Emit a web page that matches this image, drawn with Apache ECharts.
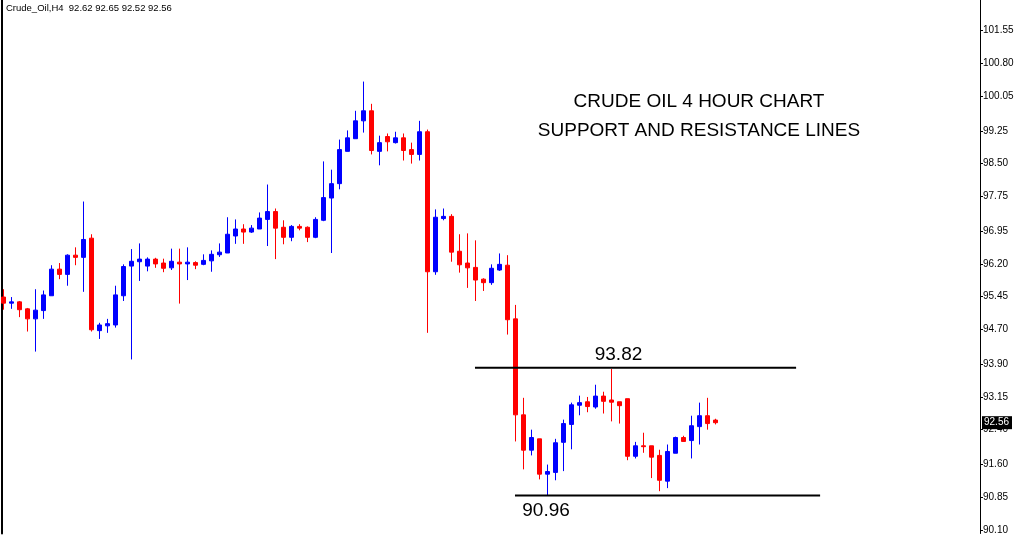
<!DOCTYPE html>
<html><head><meta charset="utf-8">
<script src="https://cdn.jsdelivr.net/npm/echarts@6/dist/echarts.min.js"></script>
<style>html,body{margin:0;padding:0;background:#fff}#c{width:1018px;height:535px}</style>
</head><body><div id="c"></div>
<script>
const headerText = 'Crude_Oil,H4  92.62 92.65 92.52 92.56';
const titleLines = ['CRUDE OIL 4 HOUR CHART', 'SUPPORT AND RESISTANCE LINES'];

const opens  = [95.44,95.30,95.33,95.17,94.94,95.13,95.47,96.08,95.96,96.40,96.35,96.79,94.67,94.78,94.80,95.47,96.15,96.25,96.15,96.31,96.22,96.11,96.24,96.20,96.23,96.19,96.27,96.41,96.45,96.84,97.00,96.93,97.00,97.22,97.40,97.04,96.81,97.06,97.04,96.81,97.20,97.71,98.04,98.78,99.07,99.48,99.71,98.78,99.12,98.98,99.09,98.82,98.71,99.23,96.02,97.24,97.29,96.49,96.22,96.12,95.85,95.77,96.06,96.17,94.94,92.74,91.93,92.19,91.38,91.42,92.11,92.52,92.96,93.04,92.92,93.17,93.08,93.04,93.11,91.79,92.03,92.03,91.81,91.22,91.86,92.22,92.15,92.47,92.72,92.62];
const closes = [95.30,95.33,95.15,94.94,95.14,95.49,96.08,95.96,96.40,96.35,96.76,94.69,94.80,94.83,95.49,96.14,96.26,96.31,96.31,96.20,96.10,96.26,96.20,96.24,96.17,96.28,96.42,96.47,96.88,97.00,96.93,97.02,97.25,97.40,97.02,96.81,97.06,97.02,96.81,97.22,97.72,98.04,98.82,99.09,99.48,99.71,98.80,98.98,99.00,99.09,98.80,98.71,99.23,96.02,97.27,97.29,96.47,96.18,96.11,95.83,95.77,96.10,96.19,94.92,92.74,91.93,92.22,91.38,91.44,92.10,92.54,92.97,93.02,92.93,93.17,93.05,93.03,92.95,91.79,92.03,92.01,91.77,91.24,91.90,92.22,92.13,92.49,92.72,92.54,92.56];
const lows   = [95.15,95.17,94.98,94.65,94.19,94.94,95.47,95.85,95.70,96.17,95.56,94.65,94.48,94.62,94.74,95.35,94.01,95.81,96.03,96.11,96.01,96.06,95.29,95.83,96.08,96.17,96.02,96.36,96.45,96.66,96.66,96.91,97.00,96.61,96.31,96.65,96.72,96.97,96.70,96.79,97.18,96.45,97.91,98.78,99.07,99.21,98.71,98.46,98.78,98.96,98.57,98.50,98.57,94.62,95.95,97.20,96.25,96.00,95.65,95.35,95.58,95.72,96.04,94.58,92.13,91.49,91.81,91.26,90.88,91.24,91.45,91.95,92.73,92.80,92.88,92.77,92.59,92.54,91.70,91.74,91.87,91.29,90.99,91.06,91.86,92.13,91.74,92.06,92.40,92.52];
const highs  = [95.62,95.44,95.35,95.19,95.62,95.59,96.17,96.22,96.42,96.58,97.63,96.88,94.85,94.94,95.70,96.19,96.54,96.67,96.35,96.34,96.32,96.55,96.55,96.58,96.26,96.42,96.51,96.67,97.27,97.22,97.11,97.09,97.38,98.02,97.47,97.20,97.09,97.11,97.06,97.27,98.55,98.36,99.05,99.26,99.71,100.38,99.87,99.14,99.19,99.23,99.19,98.98,99.48,99.28,97.45,97.47,97.34,96.88,96.90,96.74,95.87,96.19,96.44,96.40,95.26,93.13,92.40,92.19,91.60,92.19,92.63,93.02,93.18,93.15,93.43,93.27,93.79,93.04,93.11,92.12,92.33,92.03,91.94,92.06,92.24,92.26,92.72,93.02,93.13,92.65];

const tickValues = [101.55,100.80,100.05,99.25,98.50,97.75,96.95,96.20,95.45,94.70,93.90,93.15,92.40,91.60,90.85,90.10];
const lastPrice = 92.56;

const resistanceLine = [[58.96, 93.82], [99.1, 93.82]];
const resistanceLabel = {text: '93.82', at: [76.9, 93.82]};
const supportLine = [[63.96, 90.89], [102.1, 90.89]];
const supportLabel = {text: '90.96', at: [67.84, 90.89]};

const candles = opens.map((o, i) => [i, o, closes[i], lows[i], highs[i]]);

const chart = echarts.init(document.getElementById('c'), null, {renderer: 'canvas'});
const FONT = 'Liberation Sans, Arial, sans-serif';
const option = {
  animation: false,
  backgroundColor: '#fff',
  grid: {left: 2, right: 38, top: 0, bottom: 0, containLabel: false},
  xAxis: {type: 'value', min: -0.1625, max: 122.0875, show: false},
  yAxis: [
    {type: 'value', position: 'right', min: 90.02, max: 102.25, scale: true,
     axisLine: {show: true, onZero: false, lineStyle: {color: '#000', width: 1}},
     axisTick: {show: true, length: 3, customValues: tickValues, lineStyle: {color: '#000'}},
     axisLabel: {show: true, customValues: tickValues, formatter: v => v.toFixed(2), color: '#000', fontSize: 10, fontFamily: FONT, margin: 3},
     splitLine: {show: false}},
    {type: 'value', position: 'left', min: 90.02, max: 102.25, scale: true,
     axisLine: {show: true, onZero: false, lineStyle: {color: '#000', width: 2}},
     axisTick: {show: false}, axisLabel: {show: false}, splitLine: {show: false}}
  ],
  graphic: [
    {type: 'text', x: 6, y: 3, style: {text: headerText, font: '9.5px ' + FONT, fill: '#000', textVerticalAlign: 'top'}},
    {type: 'text', x: 699, y: 87, style: {text: titleLines.join('\n'), font: '19px ' + FONT, fill: '#000', textAlign: 'center', textVerticalAlign: 'top', lineHeight: 29}}
  ],
  series: [
    {type: 'candlestick', yAxisIndex: 0, barWidth: 4,
     encode: {x: 0, y: [1, 2, 3, 4]},
     data: candles,
     itemStyle: {color: '#0000ff', color0: '#ff0000', borderColor: '#0000ff', borderColor0: '#ff0000', borderWidth: 1},
     markLine: {silent: true, symbol: 'none', animation: false,
       lineStyle: {color: 'rgba(0,0,0,0)', width: 1, type: 'solid'},
       label: {show: true, position: 'end', distance: 2, formatter: lastPrice.toFixed(2), color: '#fff', backgroundColor: '#000', fontSize: 10, fontFamily: FONT, padding: [2, 3, 1, 2]},
       data: [{yAxis: lastPrice}]}
    },
    {type: 'line', yAxisIndex: 0, data: resistanceLine, symbol: 'none', lineStyle: {color: '#000', width: 2}, z: 3,
     markPoint: {symbol: 'circle', symbolSize: 0, silent: true, animation: false,
       data: [{coord: resistanceLabel.at, label: {show: true, formatter: resistanceLabel.text, position: 'inside', offset: [0, -12.5], color: '#000', fontSize: 19, fontFamily: FONT}}]}},
    {type: 'line', yAxisIndex: 0, data: supportLine, symbol: 'none', lineStyle: {color: '#000', width: 2}, z: 3,
     markPoint: {symbol: 'circle', symbolSize: 0, silent: true, animation: false,
       data: [{coord: supportLabel.at, label: {show: true, formatter: supportLabel.text, position: 'inside', offset: [0, 15.5], color: '#000', fontSize: 19, fontFamily: FONT}}]}}
  ]
};
chart.setOption(option);
</script></body></html>
